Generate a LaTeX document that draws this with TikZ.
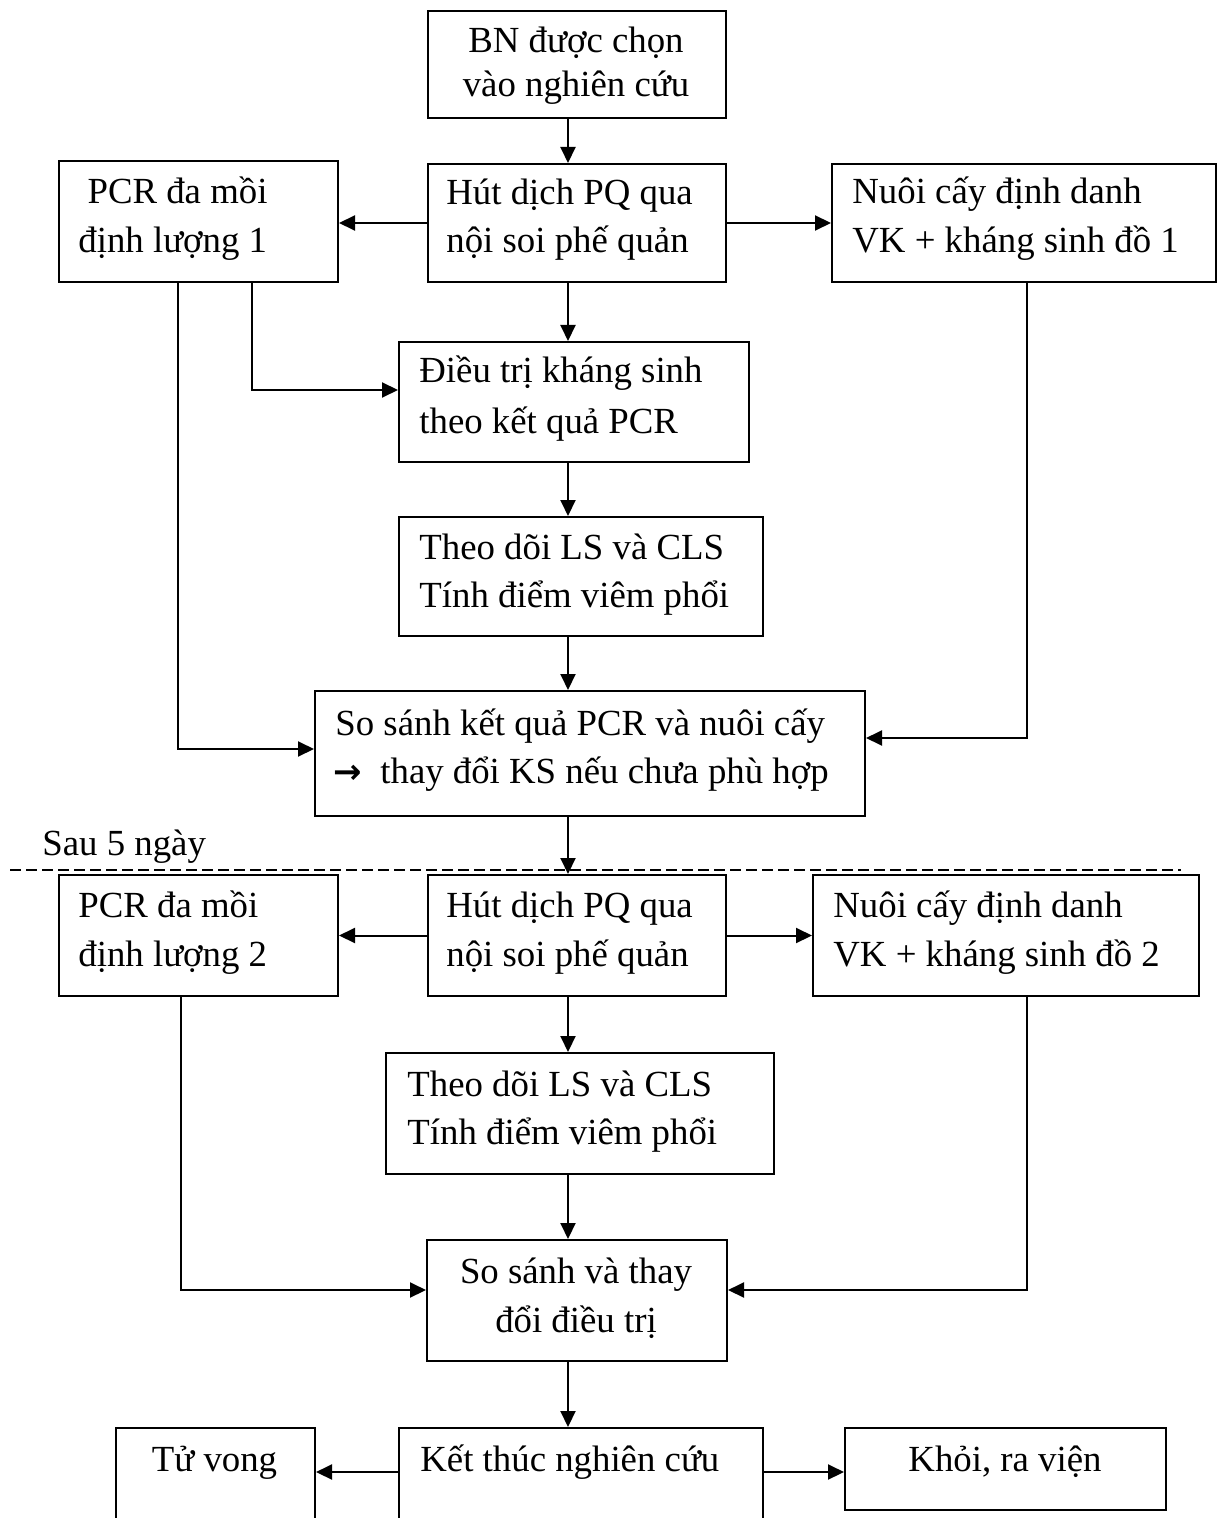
\documentclass[tikz,border=0pt]{standalone}
\usepackage{fontspec}
\setmainfont{Liberation Serif}
\newfontfamily\arrfont{DejaVu Sans}
\usetikzlibrary{arrows.meta}
\newcommand\twol[3]{\vtop{\baselineskip=#1\lineskiplimit=-100pt\halign{##\hfil\cr #2\cr #3\cr}}}
\newcommand\twoc[3]{\vtop{\baselineskip=#1\lineskiplimit=-100pt\halign{\hfil##\hfil\cr #2\cr #3\cr}}}
\begin{document}
\begin{tikzpicture}[x=0.5pt,y=-0.5pt,
  box/.style 2 args={draw, line width=1pt, inner sep=0pt, anchor=north west, minimum width=#1, minimum height=#2},
  txt/.style={inner sep=0pt, anchor=base west, font=\fontsize{18.4pt}{24pt}\selectfont},
  ctxt/.style={txt, anchor=base},
  arr/.style={line width=1pt, -{Triangle[length=8pt,width=7.5pt]}}]
\fill[white] (0,0) rectangle (1219,1518);
\useasboundingbox (0,0) rectangle (1219,1518);

% boxes
\node[box={149pt}{53.5pt}]   (A)  at (427,10)   {};
\node[box={149pt}{59pt}]     (B)  at (427,163)  {};
\node[box={139.5pt}{60.5pt}] (P1) at (58,160)   {};
\node[box={192pt}{59pt}]     (N1) at (831,163)  {};
\node[box={175pt}{60pt}]     (C)  at (398,341)  {};
\node[box={182pt}{59.5pt}]   (D)  at (398,516)  {};
\node[box={275pt}{62.5pt}]   (E)  at (314,690)  {};
\node[box={149pt}{60.5pt}]   (F)  at (427,874)  {};
\node[box={139.5pt}{60.5pt}] (P2) at (58,874)   {};
\node[box={193pt}{60.5pt}]   (N2) at (812,874)  {};
\node[box={194pt}{60.5pt}]   (G)  at (385,1052) {};
\node[box={150pt}{60.5pt}]   (H)  at (426,1239) {};
\node[box={182pt}{60pt}]     (I)  at (398,1427) {};
\node[box={99.5pt}{60pt}]    (T)  at (115,1427) {};
\node[box={160.5pt}{41pt}]   (K)  at (844,1427) {};

% texts
\node[ctxt] (tA)  at (576,53)   {\twoc{22pt}{BN được chọn}{vào nghiên cứu}};
\node[txt]  (tB)  at (446,205)  {\twol{24pt}{Hút dịch PQ qua}{nội soi phế quản}};
\node[txt]  (tP1) at (78,204)   {\twol{24.5pt}{\hskip4.6pt PCR đa mồi}{định lượng 1}};
\node[txt]  (tN1) at (852,204)  {\twol{24.5pt}{Nuôi cấy định danh}{VK + kháng sinh đồ 1}};
\node[txt]  (tC)  at (419,383)  {\twol{25pt}{Điều trị kháng sinh}{theo kết quả PCR}};
\node[txt]  (tD)  at (419,559)  {\twol{24pt}{Theo dõi LS và CLS}{Tính điểm viêm phổi}};
\node[txt]  (tE)  at (335,735)  {\twol{24pt}{So sánh kết quả PCR và nuôi cấy}{\makebox[22.5pt][l]{\hskip-1pt\arrfont\bfseries\fontsize{17pt}{24pt}\selectfont →}thay đổi KS nếu chưa phù hợp}};
\node[txt]  (tS)  at (42,855)   {Sau 5 ngày};
\node[txt]  (tF)  at (446,917)  {\twol{24.5pt}{Hút dịch PQ qua}{nội soi phế quản}};
\node[txt]  (tP2) at (78,917)   {\twol{24.5pt}{PCR đa mồi}{định lượng 2}};
\node[txt]  (tN2) at (833,917)  {\twol{24.5pt}{Nuôi cấy định danh}{VK + kháng sinh đồ 2}};
\node[txt]  (tG)  at (407,1096) {\twol{24pt}{Theo dõi LS và CLS}{Tính điểm viêm phổi}};
\node[ctxt] (tH)  at (576,1283) {\twoc{24.5pt}{So sánh và thay}{đổi điều trị}};
\node[txt]  (tI)  at (420,1471) {Kết thúc nghiên cứu};
\node[ctxt] (tT)  at (214.5,1471) {Tử vong};
\node[ctxt] (tK)  at (1005,1471) {Khỏi, ra viện};

% dashed separator
\coordinate (d1) at (10,870);
\coordinate (d2) at (1181,870);
\draw[line width=0.75pt, dash pattern=on 5.5pt off 2.5pt] (d1) -- (d2);

% connectors
\coordinate (sp) at (568,0);
\draw[arr] (A.south -| sp) -- (B.north -| sp);
\draw[arr] (B.west) -- (B.west -| P1.east);
\draw[arr] (B.east) -- (B.east -| N1.west);
\draw[arr] (B.south -| sp) -- (C.north -| sp);
\coordinate (k1) at (252,390);
\draw[arr] (P1.south -| k1) |- (C.west |- k1);
\coordinate (k2) at (178,749);
\draw[arr] (P1.south -| k2) |- (E.west |- k2);
\coordinate (k3) at (1027,738);
\draw[arr] (N1.south -| k3) |- (E.east |- k3);
\draw[arr] (C.south -| sp) -- (D.north -| sp);
\draw[arr] (D.south -| sp) -- (E.north -| sp);
\draw[arr] (E.south -| sp) -- (F.north -| sp);
\draw[arr] (F.west) -- (F.west -| P2.east);
\draw[arr] (F.east) -- (F.east -| N2.west);
\draw[arr] (F.south -| sp) -- (G.north -| sp);
\coordinate (k4) at (181,1290);
\draw[arr] (P2.south -| k4) |- (H.west |- k4);
\coordinate (k5) at (1027,1290);
\draw[arr] (N2.south -| k5) |- (H.east |- k5);
\draw[arr] (G.south -| sp) -- (H.north -| sp);
\draw[arr] (H.south -| sp) -- (I.north -| sp);
\coordinate (k6) at (0,1472);
\draw[arr] (I.west |- k6) -- (T.east |- k6);
\draw[arr] (I.east |- k6) -- (K.west |- k6);
\end{tikzpicture}
\end{document}
